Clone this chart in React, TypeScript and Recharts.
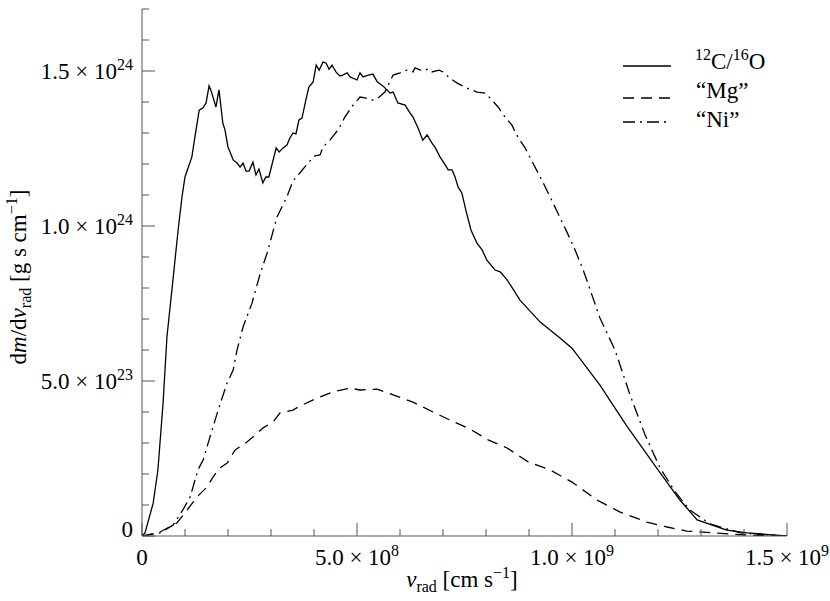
import React from 'react';
import { LineChart, Line, XAxis, YAxis } from 'recharts';

// velocities in units of 1e8 cm/s, dm/dv in units of 1e23 g s/cm
const coVel = [0, 0.07, 0.26, 0.37, 0.49, 0.58, 0.72, 0.84, 0.93, 1.0, 1.16, 1.23, 1.33, 1.42, 1.49, 1.56, 1.6, 1.72, 1.79, 1.88, 1.93, 2.0, 2.12, 2.21, 2.28, 2.35, 2.42, 2.49, 2.58, 2.65, 2.72, 2.81, 2.88, 2.95, 3.05, 3.12, 3.19, 3.28, 3.37, 3.44, 3.51, 3.58, 3.65, 3.72, 3.81, 3.88, 3.98, 4.05, 4.12, 4.21, 4.28, 4.35, 4.42, 4.51, 4.6, 4.67, 4.77, 4.84, 5.0, 5.07, 5.14, 5.26, 5.37, 5.47, 5.6, 5.77, 5.84, 5.95, 6.12, 6.23, 6.3, 6.42, 6.53, 6.63, 6.74, 6.81, 6.93, 7.05, 7.12, 7.21, 7.28, 7.35, 7.44, 7.53, 7.65, 7.79, 7.91, 8.02, 8.21, 8.33, 8.49, 8.6, 8.79, 9.26, 9.72, 10.0, 10.65, 11.26, 12.0, 12.51, 12.91, 13.6, 14.07, 15.0];
const coMass = [0, 0.1, 1.06, 2.13, 4.29, 6.42, 8.26, 9.87, 10.94, 11.58, 12.23, 12.87, 13.74, 13.81, 13.97, 14.52, 14.39, 13.84, 14.39, 13.32, 13.1, 12.55, 12.13, 12.03, 11.9, 12.03, 11.77, 11.77, 12.06, 11.65, 11.84, 11.39, 11.58, 11.58, 12.13, 12.52, 12.39, 12.52, 12.61, 12.84, 13.0, 12.97, 13.42, 13.48, 14.06, 14.48, 14.65, 15.19, 15.03, 15.29, 15.26, 15.06, 15.19, 14.97, 14.84, 14.87, 14.94, 14.81, 14.71, 14.94, 14.81, 14.87, 14.9, 14.65, 14.52, 14.29, 14.32, 13.97, 13.9, 13.65, 13.52, 13.16, 12.77, 12.94, 12.68, 12.55, 12.23, 11.97, 11.81, 11.81, 11.58, 11.26, 11.06, 10.52, 9.87, 9.45, 9.23, 8.9, 8.58, 8.52, 8.26, 8.03, 7.61, 6.9, 6.39, 6.06, 4.87, 3.58, 2.13, 1.16, 0.52, 0.19, 0.1, 0];

const mgVel = [0, 0.12, 0.42, 0.81, 1.05, 1.28, 1.51, 1.65, 1.81, 1.98, 2.16, 2.44, 2.58, 2.81, 3.05, 3.21, 3.51, 3.67, 4.07, 4.44, 4.84, 5.07, 5.47, 5.84, 6.3, 6.77, 7.16, 7.63, 8.05, 8.49, 8.98, 9.49, 10.0, 10.58, 11.12, 11.74, 12.21, 12.67, 13.28, 14.07, 15.0];
const mgMass = [0, 0.03, 0.13, 0.42, 0.84, 1.26, 1.58, 1.9, 2.19, 2.35, 2.77, 3.03, 3.19, 3.48, 3.68, 3.97, 4.06, 4.19, 4.45, 4.65, 4.77, 4.71, 4.74, 4.55, 4.32, 4.0, 3.74, 3.45, 3.1, 2.84, 2.39, 2.13, 1.74, 1.16, 0.77, 0.45, 0.29, 0.16, 0.1, 0.03, 0];

const niVel = [0, 0.42, 0.72, 0.95, 1.12, 1.3, 1.42, 1.58, 1.77, 1.98, 2.12, 2.21, 2.35, 2.56, 2.74, 2.91, 3.14, 3.37, 3.51, 3.67, 3.86, 4.02, 4.14, 4.21, 4.37, 4.56, 4.72, 4.91, 5.07, 5.19, 5.35, 5.49, 5.65, 5.84, 6.0, 6.16, 6.3, 6.35, 6.53, 6.65, 6.74, 6.91, 7.0, 7.16, 7.33, 7.56, 7.79, 7.98, 8.14, 8.28, 8.44, 8.6, 8.74, 8.91, 9.09, 9.3, 9.49, 9.67, 9.88, 10.07, 10.26, 10.4, 10.65, 11.0, 11.35, 11.7, 12.05, 12.4, 12.74, 13.21, 13.91, 15.0];
const niMass = [0, 0.1, 0.35, 0.84, 1.26, 2.13, 2.45, 3.19, 4.06, 4.94, 5.35, 6.0, 6.74, 7.52, 8.42, 9.13, 10.29, 10.94, 11.45, 11.71, 12.03, 12.26, 12.29, 12.55, 12.77, 13.1, 13.52, 13.9, 14.16, 14.13, 14.06, 14.13, 14.32, 14.87, 14.94, 15.03, 14.97, 15.1, 15.0, 15.06, 14.97, 15.03, 14.97, 14.77, 14.61, 14.45, 14.32, 14.29, 14.06, 13.84, 13.52, 13.26, 12.87, 12.52, 12.03, 11.48, 10.94, 10.42, 9.81, 9.23, 8.58, 8.03, 7.03, 6.0, 4.55, 3.26, 2.19, 1.42, 0.84, 0.39, 0.1, 0];

const xTicks = [0, 1, 2, 3, 4, 5, 6, 7, 8, 9, 10, 11, 12, 13, 14, 15];
const yTicks = [0, 1, 2, 3, 4, 5, 6, 7, 8, 9, 10, 11, 12, 13, 14, 15, 16, 17];
const xMajor: Record<number, [string, string]> = { 0: ['0', ''], 5: ['5.0 × 10', '8'], 10: ['1.0 × 10', '9'], 15: ['1.5 × 10', '9'] };
const yMajor: Record<number, [string, string]> = { 0: ['0', ''], 5: ['5.0 × 10', '23'], 10: ['1.0 × 10', '24'], 15: ['1.5 × 10', '24'] };

const zip = (v: number[], m: number[]) => v.map((x, i) => ({ v: x, m: m[i] }));
const coData = zip(coVel, coMass);
const mgData = zip(mgVel, mgMass);
const niData = zip(niVel, niMass);

const TXT = { fontFamily: 'Liberation Serif, Times New Roman, DejaVu Serif, serif' };
const AXIS = '#555';
const W = 830;
const H = 601;
const FS = 23;
const SUP = 16;

const Label = ({ x, y, parts, anchor }: { x: number; y: number; parts: [string, string]; anchor: string }) => (
  <text x={x} y={y} textAnchor={anchor} style={TXT} fontSize={FS} fill="#000">
    <tspan>{parts[0]}</tspan>
    {parts[1] && <tspan dy={-9} fontSize={SUP}>{parts[1]}</tspan>}
  </text>
);

const bottomTick = (p: any) => {
  const major = xMajor[p.payload.value];
  return (
    <g>
      <line x1={p.x} x2={p.x} y1={p.y} y2={p.y - (major ? 13 : 7)} stroke={AXIS} />
      {major && <Label x={p.x} y={p.y + 29} parts={major} anchor="middle" />}
    </g>
  );
};
const topTick = (p: any) => (
  <line x1={p.x} x2={p.x} y1={p.y} y2={p.y + (xMajor[p.payload.value] ? 13 : 7)} stroke={AXIS} />
);
const leftTick = (p: any) => {
  const val = p.payload.value;
  const major = yMajor[val];
  return (
    <g>
      <line x1={p.x} x2={p.x + (major ? 13 : 7)} y1={p.y} y2={p.y} stroke={AXIS} />
      {major && <Label x={p.x - 9} y={val === 0 ? p.y + 1 : p.y + 8} parts={major} anchor="end" />}
    </g>
  );
};
const rightTick = (p: any) => (
  <line x1={p.x} x2={p.x - (yMajor[p.payload.value] ? 13 : 7)} y1={p.y} y2={p.y} stroke={AXIS} />
);

const legendItems = [
  { dash: undefined, y: 66, ty: 69, text: '' },
  { dash: '11 7', y: 98, ty: 98, text: '“Mg”' },
  { dash: '12 5 2 5', y: 122, ty: 127, text: '“Ni”' },
];

export default function App() {
  return (
    <div style={{ position: 'absolute', left: 0, top: 0, width: W, height: H, background: '#fff' }}>
      <LineChart width={W} height={H} margin={{ top: 9, right: 43, bottom: 35, left: 0 }}>
        <XAxis xAxisId="b" dataKey="v" type="number" domain={[0, 15]} ticks={xTicks} interval={0}
          allowDataOverflow height={30} tickSize={0} tickMargin={0} tickLine={false}
          axisLine={{ stroke: AXIS }} tick={bottomTick} />
        <XAxis xAxisId="t" orientation="top" dataKey="v" type="number" domain={[0, 15]} ticks={xTicks}
          interval={0} allowDataOverflow height={0} tickSize={0} tickMargin={0} tickLine={false}
          axisLine={{ stroke: AXIS }} tick={topTick} />
        <YAxis yAxisId="l" type="number" domain={[0, 17]} ticks={yTicks} interval={0} allowDataOverflow
          width={142} tickSize={0} tickMargin={0} tickLine={false} axisLine={{ stroke: AXIS }} tick={leftTick} />
        <YAxis yAxisId="r" orientation="right" type="number" domain={[0, 17]} ticks={yTicks} interval={0}
          allowDataOverflow width={0} tickSize={0} tickMargin={0} tickLine={false}
          axisLine={{ stroke: AXIS }} tick={rightTick} />
        <Line xAxisId="b" yAxisId="l" data={coData} dataKey="m" type="linear" stroke="#000"
          strokeWidth={1.3} dot={false} isAnimationActive={false} />
        <Line xAxisId="b" yAxisId="l" data={mgData} dataKey="m" type="linear" stroke="#000"
          strokeWidth={1.3} strokeDasharray="11 7" dot={false} isAnimationActive={false} />
        <Line xAxisId="b" yAxisId="l" data={niData} dataKey="m" type="linear" stroke="#000"
          strokeWidth={1.3} strokeDasharray="12 5 2 5" dot={false} isAnimationActive={false} />
      </LineChart>
      <svg width={W} height={H} style={{ position: 'absolute', left: 0, top: 0, pointerEvents: 'none' }}>
        <text x={462} y={587} textAnchor="middle" style={TXT} fontSize={FS}>
          <tspan fontStyle="italic">v</tspan>
          <tspan dy={5} fontSize={SUP}>rad</tspan>
          <tspan dy={-5}> [cm s</tspan>
          <tspan dy={-9} fontSize={SUP}>−1</tspan>
          <tspan dy={9}>]</tspan>
        </text>
        <text transform="translate(26,277) rotate(-90)" textAnchor="middle" style={TXT} fontSize={FS}>
          <tspan>d</tspan>
          <tspan fontStyle="italic">m</tspan>
          <tspan>/d</tspan>
          <tspan fontStyle="italic">v</tspan>
          <tspan dy={5} fontSize={SUP}>rad</tspan>
          <tspan dy={-5}> [g s cm</tspan>
          <tspan dy={-9} fontSize={SUP}>−1</tspan>
          <tspan dy={9}>]</tspan>
        </text>
        {legendItems.map((it, i) => (
          <g key={i}>
            <line x1={623} x2={671} y1={it.y} y2={it.y} stroke="#000" strokeWidth={1.3} strokeDasharray={it.dash} />
            {i === 0 ? (
              <text x={695} y={it.ty} style={TXT} fontSize={FS}>
                <tspan dy={-9} fontSize={SUP}>12</tspan>
                <tspan dy={9}>C/</tspan>
                <tspan dy={-9} fontSize={SUP}>16</tspan>
                <tspan dy={9}>O</tspan>
              </text>
            ) : (
              <text x={696} y={it.ty} style={TXT} fontSize={FS}>{it.text}</text>
            )}
          </g>
        ))}
      </svg>
    </div>
  );
}
